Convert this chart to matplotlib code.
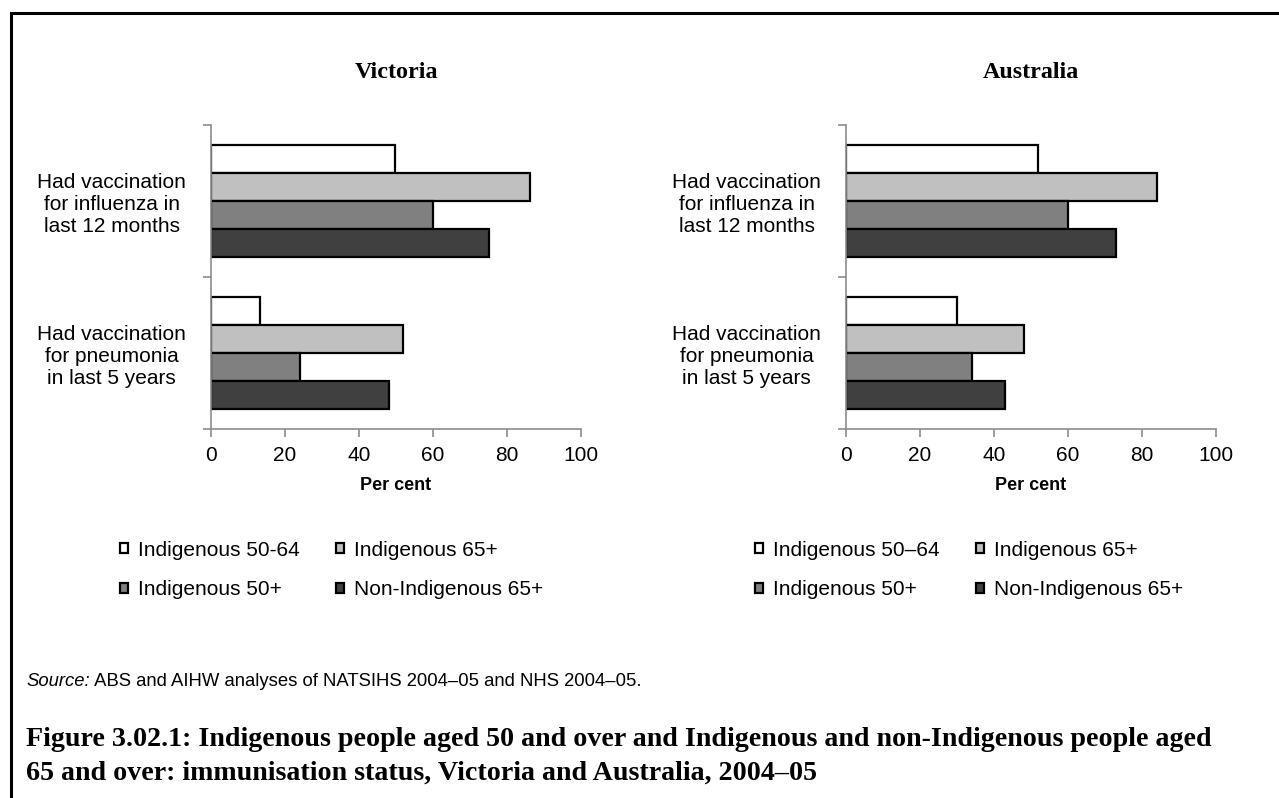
import matplotlib.pyplot as plt
from matplotlib.lines import Line2D

plt.rcParams['font.family'] = ['Liberation Sans', 'DejaVu Sans']

categories = ['Had vaccination\nfor influenza in\nlast 12 months',
              'Had vaccination\nfor pneumonia\nin last 5 years']
series_vic = ['Indigenous 50-64', 'Indigenous 65+', 'Indigenous 50+', 'Non-Indigenous 65+']
series_aus = ['Indigenous 50\u201364', 'Indigenous 65+', 'Indigenous 50+', 'Non-Indigenous 65+']
colors = ['#ffffff', '#c0c0c0', '#808080', '#404040']

# values: [influenza, pneumonia]
vic_50_64 = [49.7, 13.3]
vic_65 = [86.2, 51.8]
vic_50 = [60.0, 24.1]
vic_non65 = [75.0, 48.2]

aus_50_64 = [52.0, 30.0]
aus_65 = [84.0, 48.0]
aus_50 = [60.0, 34.0]
aus_non65 = [73.0, 43.0]

W, H = 1279, 798
fig = plt.figure(figsize=(W / 100, H / 100), dpi=100)

grey = '#8c8c8c'
bar_h = 0.184
serif = ['Liberation Serif', 'DejaVu Serif']


def panel(left_px, title, vals, names):
    ax = fig.add_axes([left_px / W, 1 - 429 / H, 370 / W, (429 - 125) / H])
    for i, v in enumerate(vals):
        ys = [c + (i - 1.5) * bar_h for c in range(len(categories))]
        ax.barh(ys, v, height=bar_h, color=colors[i], edgecolor='black',
                linewidth=1.6, label=names[i])
    ax.set_xlim(0, 100)
    ax.set_ylim(1.5, -0.5)
    ax.set_xticks([0, 20, 40, 60, 80, 100])
    ax.set_yticks([0, 1])
    ax.set_yticklabels(categories)
    for t in ax.get_yticklabels():
        t.set_multialignment('center')
        t.set_linespacing(1.22)
    ax.set_yticks([-0.5, 0.5, 1.5], minor=True)
    ax.tick_params(axis='y', which='major', length=0, pad=18, labelsize=15)
    ax.tick_params(axis='y', which='minor', length=6, color=grey, width=1.2)
    ax.tick_params(axis='x', length=6, color=grey, width=1.2, labelsize=15, pad=6)
    for s in ['top', 'right']:
        ax.spines[s].set_visible(False)
    for s in ['left', 'bottom']:
        ax.spines[s].set_color(grey)
        ax.spines[s].set_linewidth(1.2)
    ax.set_xlabel('Per cent', fontsize=13, fontweight='bold', labelpad=9)
    fig.text((left_px + 185) / W, 1 - 73 / H, title, ha='center', va='center',
             fontsize=17.3, fontweight='bold', family=serif)
    return ax


ax1 = panel(211, 'Victoria', [vic_50_64, vic_65, vic_50, vic_non65], series_vic)
ax2 = panel(846, 'Australia', [aus_50_64, aus_65, aus_50, aus_non65], series_aus)

for ax, x0 in [(ax1, 120), (ax2, 755)]:
    h, l = ax.get_legend_handles_labels()
    order = [0, 2, 1, 3]
    fig.legend([h[i] for i in order], [l[i] for i in order], ncol=2,
               loc='center left', bbox_to_anchor=(x0 / W, 1 - 570 / H),
               frameon=False, fontsize=15, handlelength=0.4, handleheight=0.4,
               handletextpad=0.45, columnspacing=1.75, labelspacing=1.0,
               borderpad=0, borderaxespad=0)

src = fig.text(26 / W, 1 - 682 / H, 'Source:', style='italic', fontsize=13.3,
               va='center', ha='left')
ax1.annotate(' ABS and AIHW analyses of NATSIHS 2004\u201305 and NHS 2004\u201305.',
             xy=(1, 0), xycoords=src, va='bottom', ha='left', fontsize=13.3,
             annotation_clip=False)

fig.text(26 / W, 1 - 740 / H,
         'Figure 3.02.1: Indigenous people aged 50 and over and Indigenous and non-Indigenous people aged',
         fontsize=20.2, fontweight='bold', family=serif, va='center', ha='left')
fig.text(26 / W, 1 - 773 / H,
         '65 and over: immunisation status, Victoria and Australia, 2004\u201305',
         fontsize=20.2, fontweight='bold', family=serif, va='center', ha='left')

# frame lines
fig.add_artist(Line2D([11 / W, 1], [1 - 13 / H, 1 - 13 / H], color='black',
                      linewidth=2.2, transform=fig.transFigure))
fig.add_artist(Line2D([11 / W, 11 / W], [0, 1 - 13 / H], color='black',
                      linewidth=2.2, transform=fig.transFigure))

fig.savefig('out.png', dpi=100)
